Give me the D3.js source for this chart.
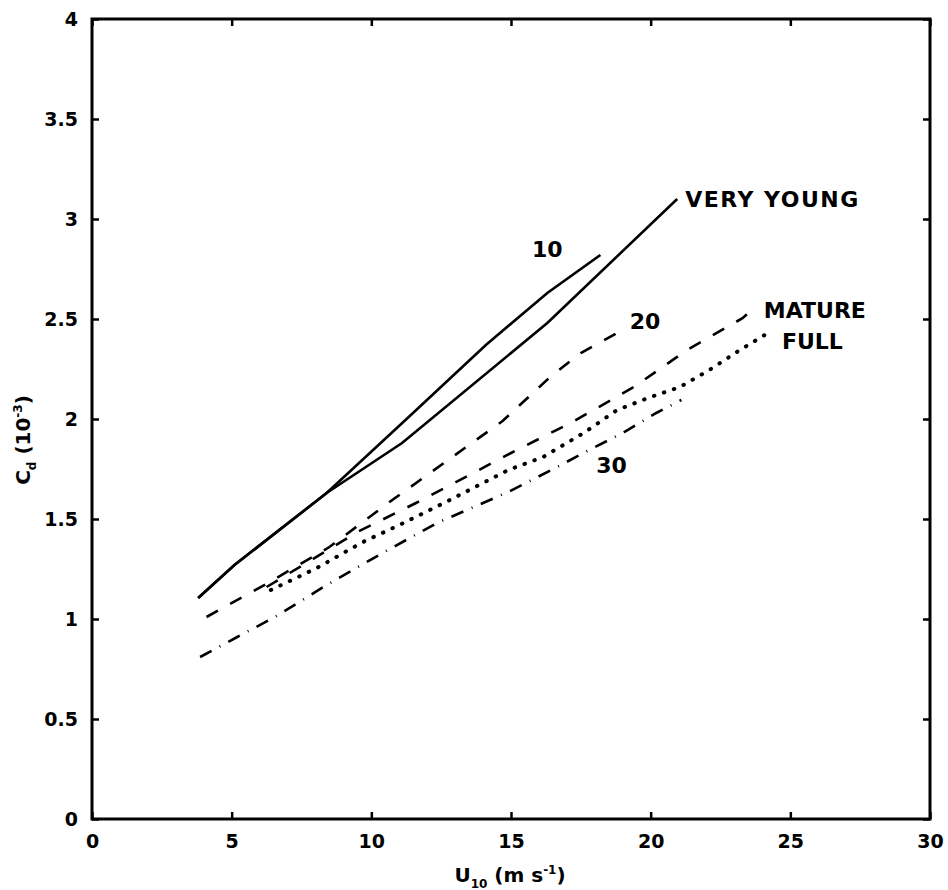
<!DOCTYPE html>
<html>
<head>
<meta charset="utf-8">
<script src="https://cdn.jsdelivr.net/npm/d3@7"></script>
<style>
  body { margin: 0; background: #fff; }
  text { fill: #000; }
</style>
</head>
<body>
<svg id="chart"></svg>
<script>
// wind speed U10 (m/s) vs drag coefficient Cd (1e-3)
const veryYoung = [[3.8, 1.105], [5.1, 1.27], [8.4, 1.63], [11.1, 1.88], [16.3, 2.48], [20.95, 3.1]];
const age10 = [[3.8, 1.105], [5.1, 1.27], [8.4, 1.63], [11.3, 2.005], [14.1, 2.37], [16.3, 2.63], [18.2, 2.82]];
const age20 = [[4.1, 1.01], [6.3, 1.18], [8.5, 1.36], [10.7, 1.59], [12.6, 1.78], [14.7, 1.99], [16.4, 2.21], [17.5, 2.33], [18.8, 2.43]];
const mature = [[6.25, 1.16], [9.5, 1.435], [11.6, 1.58], [12.7, 1.66], [15.0, 1.83], [17.2, 1.985], [19.4, 2.16], [21.3, 2.345], [23.3, 2.505], [23.8, 2.57]];
const full = [[6.4, 1.145], [8.05, 1.255], [9.7, 1.385], [11.0, 1.47], [12.6, 1.58], [14.9, 1.745], [16.15, 1.81], [17.6, 1.93], [18.8, 2.045], [20.0, 2.11], [21.05, 2.16], [22.1, 2.245], [23.2, 2.345], [24.2, 2.43]];
const age30 = [[3.87, 0.81], [5.2, 0.91], [6.55, 1.01], [8.4, 1.17], [10.4, 1.33], [12.35, 1.48], [14.9, 1.635], [16.65, 1.76], [17.8, 1.845], [19.0, 1.93], [20.2, 2.03], [21.1, 2.095]];

const xTicks = [0, 5, 10, 15, 20, 25, 30];
const yTicks = [0, 0.5, 1, 1.5, 2, 2.5, 3, 3.5, 4];

const series = [
  { name: "VERY YOUNG", data: veryYoung, dash: null, lx: 20.95, ly: 3.1, dx: 8, dy: 8, anchor: "start" },
  { name: "10", data: age10, dash: null, lx: 16.3, ly: 2.85, dx: 0, dy: 8, anchor: "middle" },
  { name: "20", data: age20, dash: "13,14", lx: 19.8, ly: 2.49, dx: 0, dy: 8, anchor: "middle" },
  { name: "MATURE", data: mature, dash: "13,14", lx: 23.8, ly: 2.57, dx: 7, dy: 13, anchor: "start" },
  { name: "FULL", data: full, dash: "0.5,10", lx: 24.7, ly: 2.39, dx: 0, dy: 8, anchor: "start" },
  { name: "30", data: age30, dash: "13,9,1,9", lx: 18.6, ly: 1.77, dx: 0, dy: 8, anchor: "middle" }
];

const margin = { top: 19, right: 18, bottom: 71, left: 92 };
const width = 948 - margin.left - margin.right;
const height = 890 - margin.top - margin.bottom;

const svg = d3.select("#chart")
  .attr("width", 948)
  .attr("height", 890);

const g = svg.append("g")
  .attr("transform", `translate(${margin.left},${margin.top})`);

const x = d3.scaleLinear().domain([0, 30]).range([0, width]);
const y = d3.scaleLinear().domain([0, 4]).range([height, 0]);

const labelFont = "'DejaVu Sans', sans-serif";

// axes: ticks inward on all four sides, like a matlab box
function styleAxis(sel) {
  sel.select(".domain").remove();
  sel.attr("font-family", labelFont).attr("font-size", 19);
  sel.selectAll(".tick line").attr("stroke", "#000").attr("stroke-width", 2.5);
  sel.selectAll(".tick text")
    .attr("font-weight", "bold")
    .attr("fill", "#000");
}

g.append("g")
  .attr("transform", `translate(0,${height})`)
  .call(d3.axisBottom(x).tickValues(xTicks).tickSize(-7).tickPadding(16).tickFormat(d3.format("d")))
  .call(styleAxis);

g.append("g")
  .call(d3.axisLeft(y).tickValues(yTicks).tickSize(-7).tickPadding(14).tickFormat(d => String(d)))
  .call(styleAxis);

g.append("g")
  .call(d3.axisTop(x).tickValues(xTicks).tickSize(-7).tickFormat(""))
  .call(styleAxis);

g.append("g")
  .attr("transform", `translate(${width},0)`)
  .call(d3.axisRight(y).tickValues(yTicks).tickSize(-7).tickFormat(""))
  .call(styleAxis);

g.append("rect")
  .attr("width", width)
  .attr("height", height)
  .attr("fill", "none")
  .attr("stroke", "#000")
  .attr("stroke-width", 3);

// curves
const line = d3.line()
  .x(d => x(d[0]))
  .y(d => y(d[1]));

g.selectAll(".curve")
  .data(series)
  .enter()
  .append("path")
  .attr("class", "curve")
  .attr("d", d => line(d.data))
  .attr("fill", "none")
  .attr("stroke", "#000")
  .attr("stroke-width", d => d.name === "FULL" ? 4 : 2.6)
  .attr("stroke-linecap", d => d.name === "FULL" ? "round" : "butt")
  .attr("stroke-dasharray", d => d.dash);

g.selectAll(".curve-label")
  .data(series)
  .enter()
  .append("text")
  .attr("class", "curve-label")
  .attr("x", d => x(d.lx) + d.dx)
  .attr("y", d => y(d.ly) + d.dy)
  .attr("text-anchor", d => d.anchor)
  .style("font-family", labelFont)
  .style("font-weight", "bold")
  .style("font-size", "22px")
  .style("letter-spacing", d => d.name === "VERY YOUNG" ? "1.5px" : "0px")
  .text(d => d.name);

// axis titles
const xl = svg.append("text")
  .attr("x", 510)
  .attr("y", 882)
  .attr("text-anchor", "middle")
  .style("font-family", labelFont)
  .style("font-weight", "bold")
  .style("font-size", "20px");
xl.append("tspan").text("U");
xl.append("tspan").attr("dy", 6).style("font-size", "12px").text("10");
xl.append("tspan").attr("dy", -6).text(" (m s");
xl.append("tspan").attr("dy", -8).style("font-size", "12px").text("-1");
xl.append("tspan").attr("dy", 8).text(")");

const yl = svg.append("text")
  .attr("transform", "translate(30,440) rotate(-90)")
  .attr("text-anchor", "middle")
  .style("font-family", labelFont)
  .style("font-weight", "bold")
  .style("font-size", "20px");
yl.append("tspan").text("C");
yl.append("tspan").attr("dy", 6).style("font-size", "12px").text("d");
yl.append("tspan").attr("dy", -6).text(" (10");
yl.append("tspan").attr("dy", -8).style("font-size", "12px").text("-3");
yl.append("tspan").attr("dy", 8).text(")");
</script>
</body>
</html>
